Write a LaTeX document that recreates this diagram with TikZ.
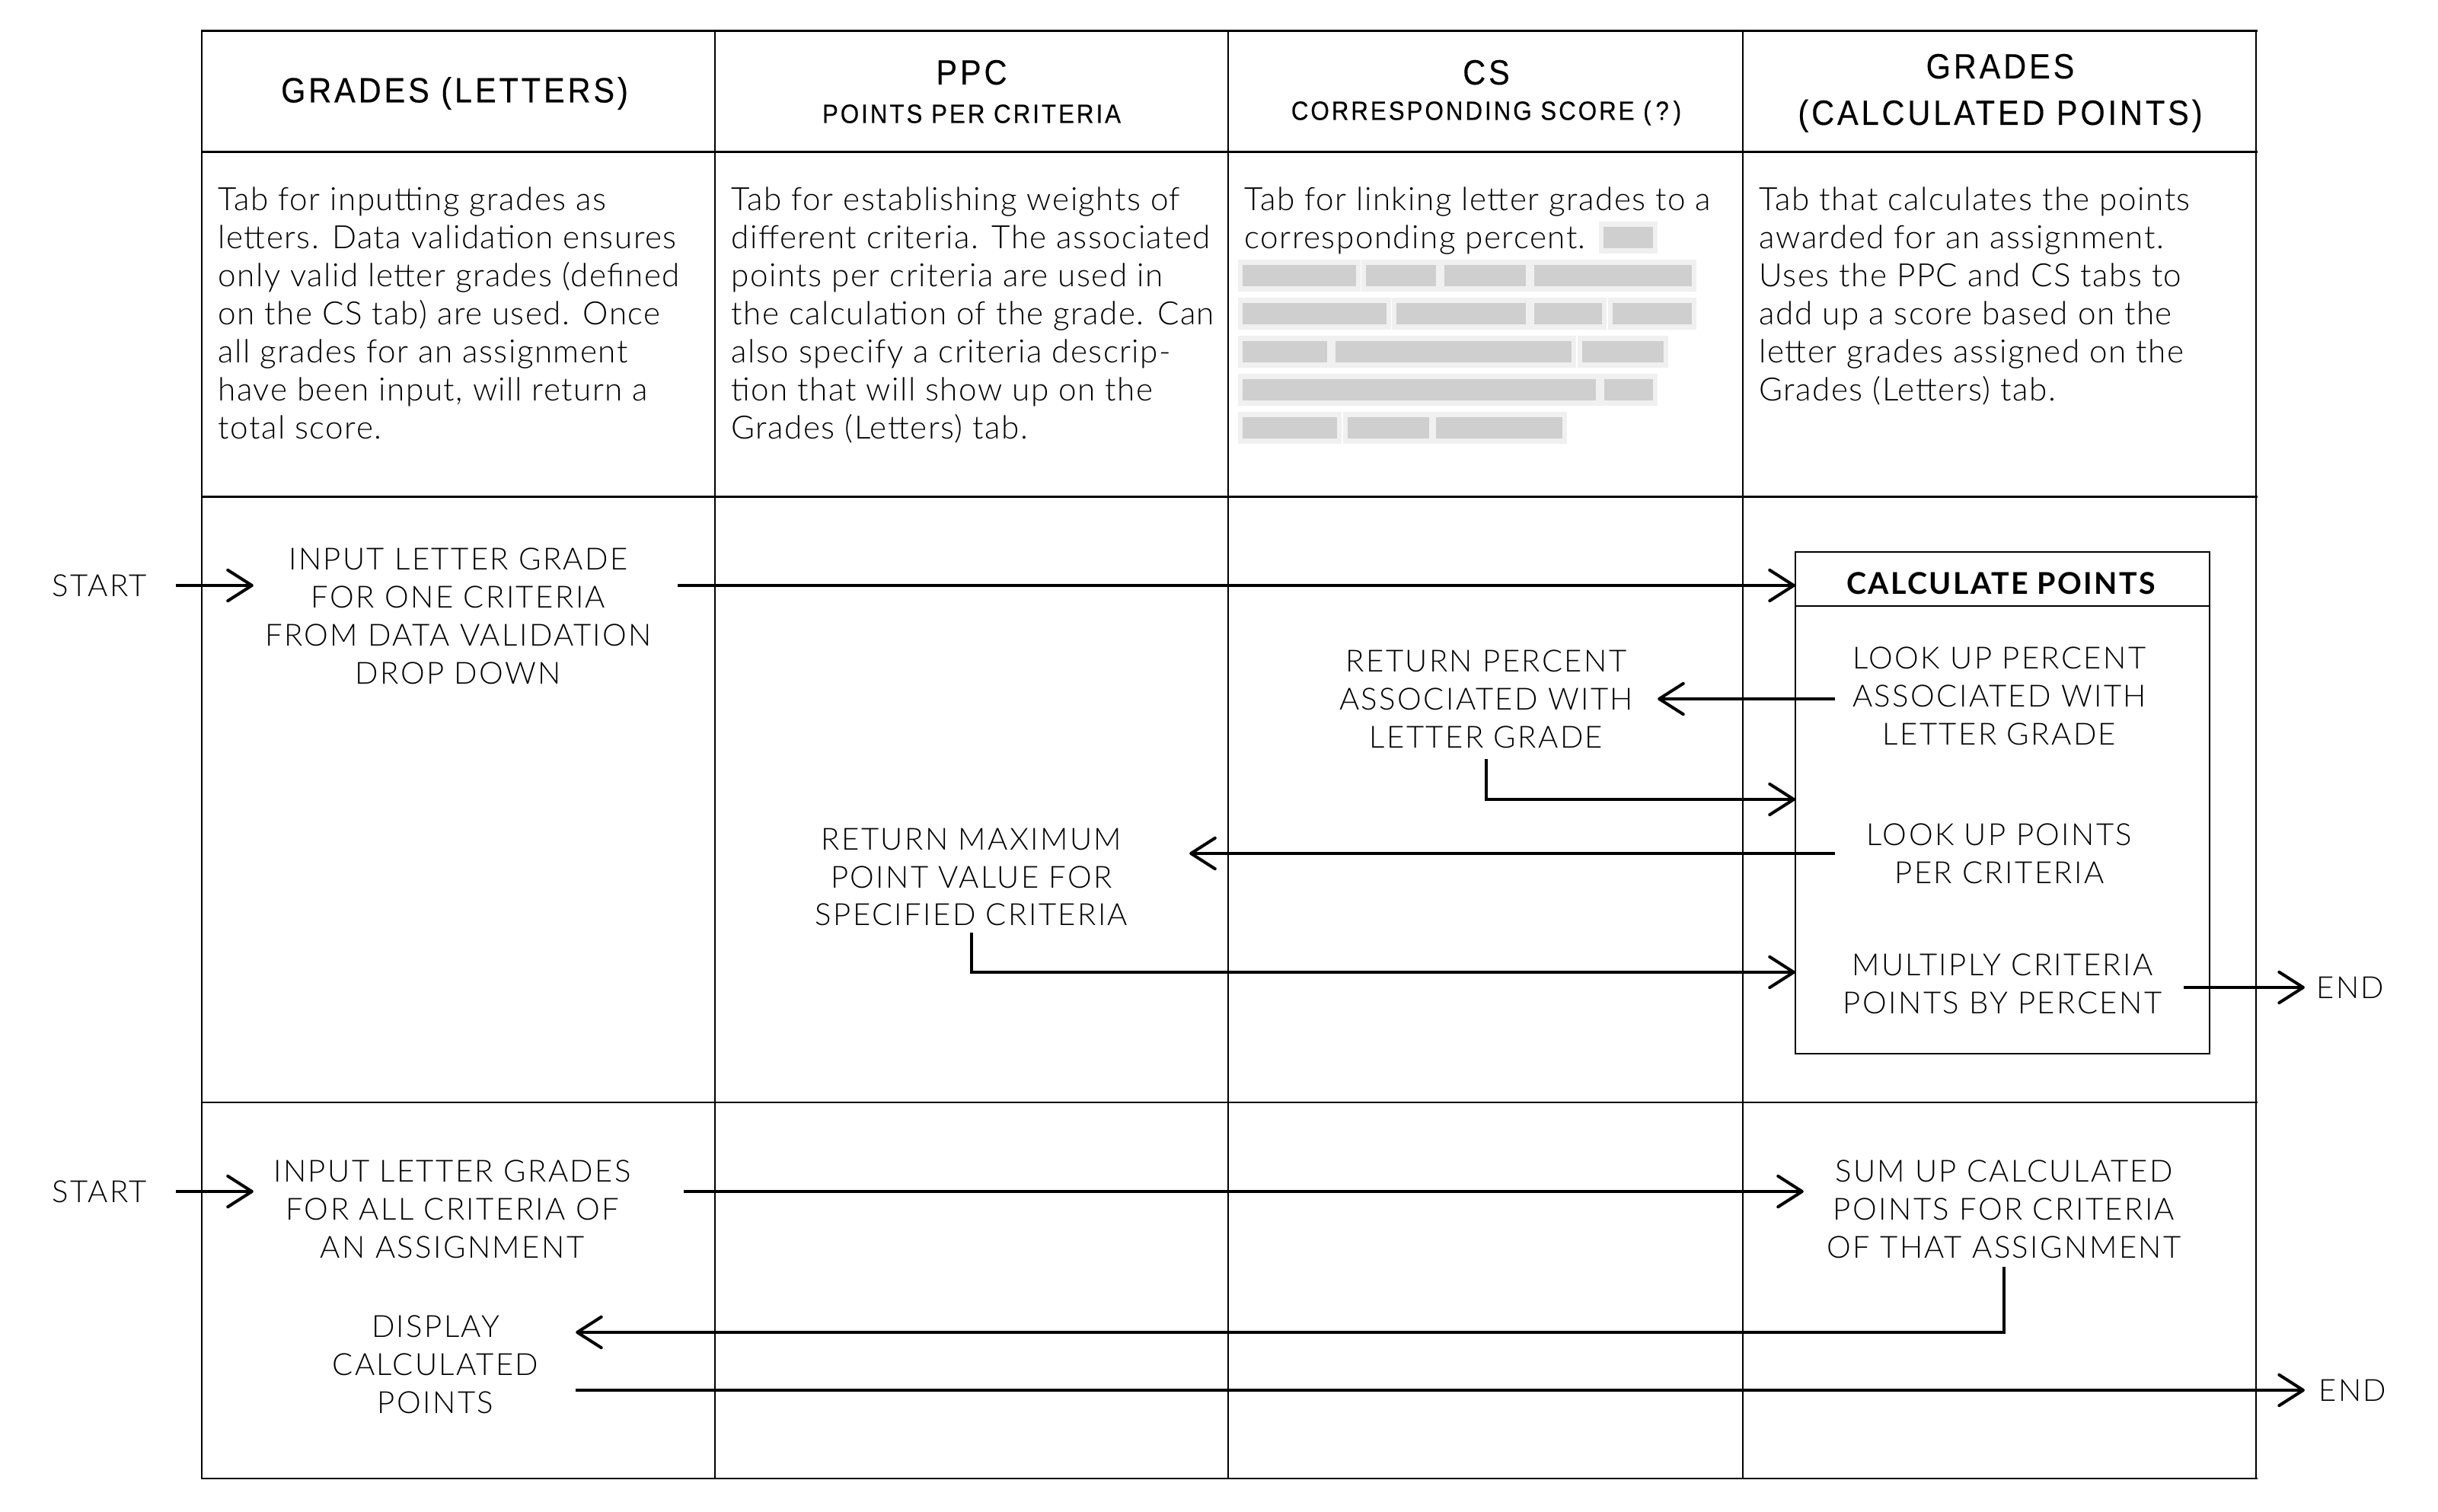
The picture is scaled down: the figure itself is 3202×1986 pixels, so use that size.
\documentclass[tikz,border=0pt]{standalone}
\usepackage{fontspec}
\usetikzlibrary{arrows.meta}
\IfFontExistsTF{Lato Light}{\def\lightname{Lato Light}}{\def\lightname{Lato}}
\newfontfamily\flowfont[LetterSpace=6]{\lightname}
\newfontfamily\descfont[LetterSpace=3.5]{\lightname}
\newfontfamily\calcfont[LetterSpace=6]{Lato}
\newfontfamily\headfont[FakeStretch=0.9,LetterSpace=8.5,FakeBold=0.3]{Liberation Sans}
\begin{document}
\begin{tikzpicture}[x=0.01cm,y=-0.01cm,
  hline/.style={line width=0.85pt,line cap=rect},
  vline/.style={line width=0.43pt},
  flow/.style={font=\flowfont\fontsize{11.4}{14.2}\selectfont, align=center, inner sep=0pt, outer sep=0pt},
  desc/.style={font=\descfont\fontsize{12}{14.2}\selectfont, align=left, inner sep=0pt, anchor=north west},
  headmain/.style={font=\headfont\fontsize{13.1}{15}\selectfont, inner sep=0pt, anchor=base},
  headsub/.style={font=\headfont\fontsize{9.9}{12}\selectfont, inner sep=0pt, anchor=base},
  boxline/.style={draw, line width=0.57pt, inner sep=0pt, outer sep=0pt, minimum width=5.44cm},
  arr/.style={line width=1.14pt, -{Straight Barb[length=9pt,width=11.5pt,round]}},
  blur/.style={fill=black!19, draw=none},
  halo/.style={fill=black!6, draw=none}
]
\path[use as bounding box] (0,0) rectangle (3202,1986);

% table grid
\foreach \x in {265,939,1613,2289,2963} \draw[vline] (\x,41) -- (\x,1942);
\foreach \y in {41,200,653,1448,1942} \draw[hline] (265,\y) -- (2963,\y);

% headers
\node[headmain] (h1) at (597,134.5) {GRADES (LETTERS)};
\node[headmain] (h2) at (1276,111) {PPC};
\node[headsub] (h2s) at (1276,161.5) {POINTS PER CRITERIA};
\node[headmain] (h3) at (1952,111) {CS};
\node[headsub] (h3s) at (1952,157.5) {CORRESPONDING SCORE (\,?\,)};
\node[headmain] (h4) at (2627,103) {GRADES};
\node[headmain] (h4s) at (2627,164) {(CALCULATED POINTS)};

% descriptions
\node[desc] (d1) at (286,245) {Tab for inputting grades as\\letters. Data validation ensures\\only valid letter grades (defined\\on the CS tab) are used. Once\\all grades for an assignment\\have been input, will return a\\total score.};
\node[desc] (d2) at (960,245) {Tab for establishing weights of\\different criteria. The associated\\points per criteria are used in\\the calculation of the grade. Can\\also specify a criteria descrip-\\tion that will show up on the\\Grades (Letters) tab.};
\node[desc] (d3) at (1634,245) {Tab for linking letter grades to a\\corresponding percent.};
\node[desc] (d4) at (2310,245) {Tab that calculates the points\\awarded for an assignment.\\Uses the PPC and CS tabs to\\add up a score based on the\\letter grades assigned on the\\Grades (Letters) tab.};

% blurred (illegible) part of the CS description
\foreach \a/\b/\y in {2106/2171/312, 1632/1781/362, 1794/1886/362, 1897/2004/362, 2015/2222/362, 1632/1821/412, 1834/2004/412, 2015/2104/412, 2118/2222/412, 1632/1743/462, 1754/2064/462, 2078/2185/462, 1632/2096/512, 2107/2171/512, 1632/1756/562, 1770/1877/562, 1886/2052/562}
  {\fill[halo] (\a-6,\y-21) rectangle (\b+6,\y+21);}
\foreach \a/\b/\y in {2106/2171/312, 1632/1781/362, 1794/1886/362, 1897/2004/362, 2015/2222/362, 1632/1821/412, 1834/2004/412, 2015/2104/412, 2118/2222/412, 1632/1743/462, 1754/2064/462, 2078/2185/462, 1632/2096/512, 2107/2171/512, 1632/1756/562, 1770/1877/562, 1886/2052/562}
  {\fill[blur] (\a,\y-14) rectangle (\b,\y+14);}

% row 1
\node[flow, minimum width=2cm] (start1) at (131,769) {START};
\node[flow, minimum width=5.38cm] (in1) at (602,809) {INPUT LETTER GRADE\\FOR ONE CRITERIA\\FROM DATA VALIDATION\\DROP DOWN};
\node[boxline, minimum height=6.59cm] (calc) at (2630,1054.5) {};
\node[boxline, minimum height=0.71cm] (calct) at (2630,760.5) {};
\node[font=\calcfont\bfseries\fontsize{11.2}{12}\selectfont, inner sep=0pt] (calctt) at (2628,766) {CALCULATE POINTS};
\node[flow, minimum width=4.32cm] (lp1) at (2626,914) {LOOK UP PERCENT\\ASSOCIATED WITH\\LETTER GRADE};
\node[flow, minimum width=4.5cm] (rp1) at (1952,918) {RETURN PERCENT\\ASSOCIATED WITH\\LETTER GRADE};
\node[flow, minimum width=4.32cm] (lp2) at (2626,1121) {LOOK UP POINTS\\PER CRITERIA};
\node[flow, minimum width=5.72cm] (rm) at (1276,1152) {RETURN MAXIMUM\\POINT VALUE FOR\\SPECIFIED CRITERIA};
\node[flow, minimum width=4.76cm] (mult) at (2630,1292) {MULTIPLY CRITERIA\\POINTS BY PERCENT};
\node[flow, minimum width=1.2cm] (end1) at (3087,1297) {END};

% row 2
\node[flow, minimum width=2cm] (start2) at (131,1565) {START};
\node[flow, minimum width=5.22cm] (in2) at (594,1588) {INPUT LETTER GRADES\\FOR ALL CRITERIA OF\\AN ASSIGNMENT};
\node[flow, minimum width=5.26cm] (sum) at (2632,1588) {SUM UP CALCULATED\\POINTS FOR CRITERIA\\OF THAT ASSIGNMENT};
\node[flow, minimum width=3.68cm] (disp) at (572,1792) {DISPLAY\\CALCULATED\\POINTS};
\node[flow, minimum width=1.26cm] (end2) at (3090,1826) {END};

% elbow levels
\coordinate (lvl1) at (0,1050);
\coordinate (lvl2) at (0,1277);
\coordinate (lvl3) at (0,1750);

% connectors
\draw[arr] (start1.east) -- (in1.west |- start1.east);
\draw[arr, shorten <=0.19cm] (in1.east |- start1.east) -- (calc.west |- start1.east);
\draw[arr] (lp1.west |- rp1.east) -- (rp1.east);
\draw[arr, shorten <=0.15cm] (rp1.south) |- (calc.west |- lvl1);
\draw[arr] (lp2.west) -- (rm.east |- lp2.west);
\draw[arr, shorten <=0.09cm] (rm.south) |- (calc.west |- lvl2);
\draw[arr] (mult.east |- end1.west) -- (end1.west);
\draw[arr] (start2.east) -- (in2.west |- start2.east);
\draw[arr, shorten <=0.43cm] (in2.east |- start2.east) -- (sum.west |- start2.east);
\draw[arr, shorten <=0.12cm] (sum.south) |- (disp.east |- lvl3);
\draw[arr] (disp.east |- end2.west) -- (end2.west);
\end{tikzpicture}
\end{document}
